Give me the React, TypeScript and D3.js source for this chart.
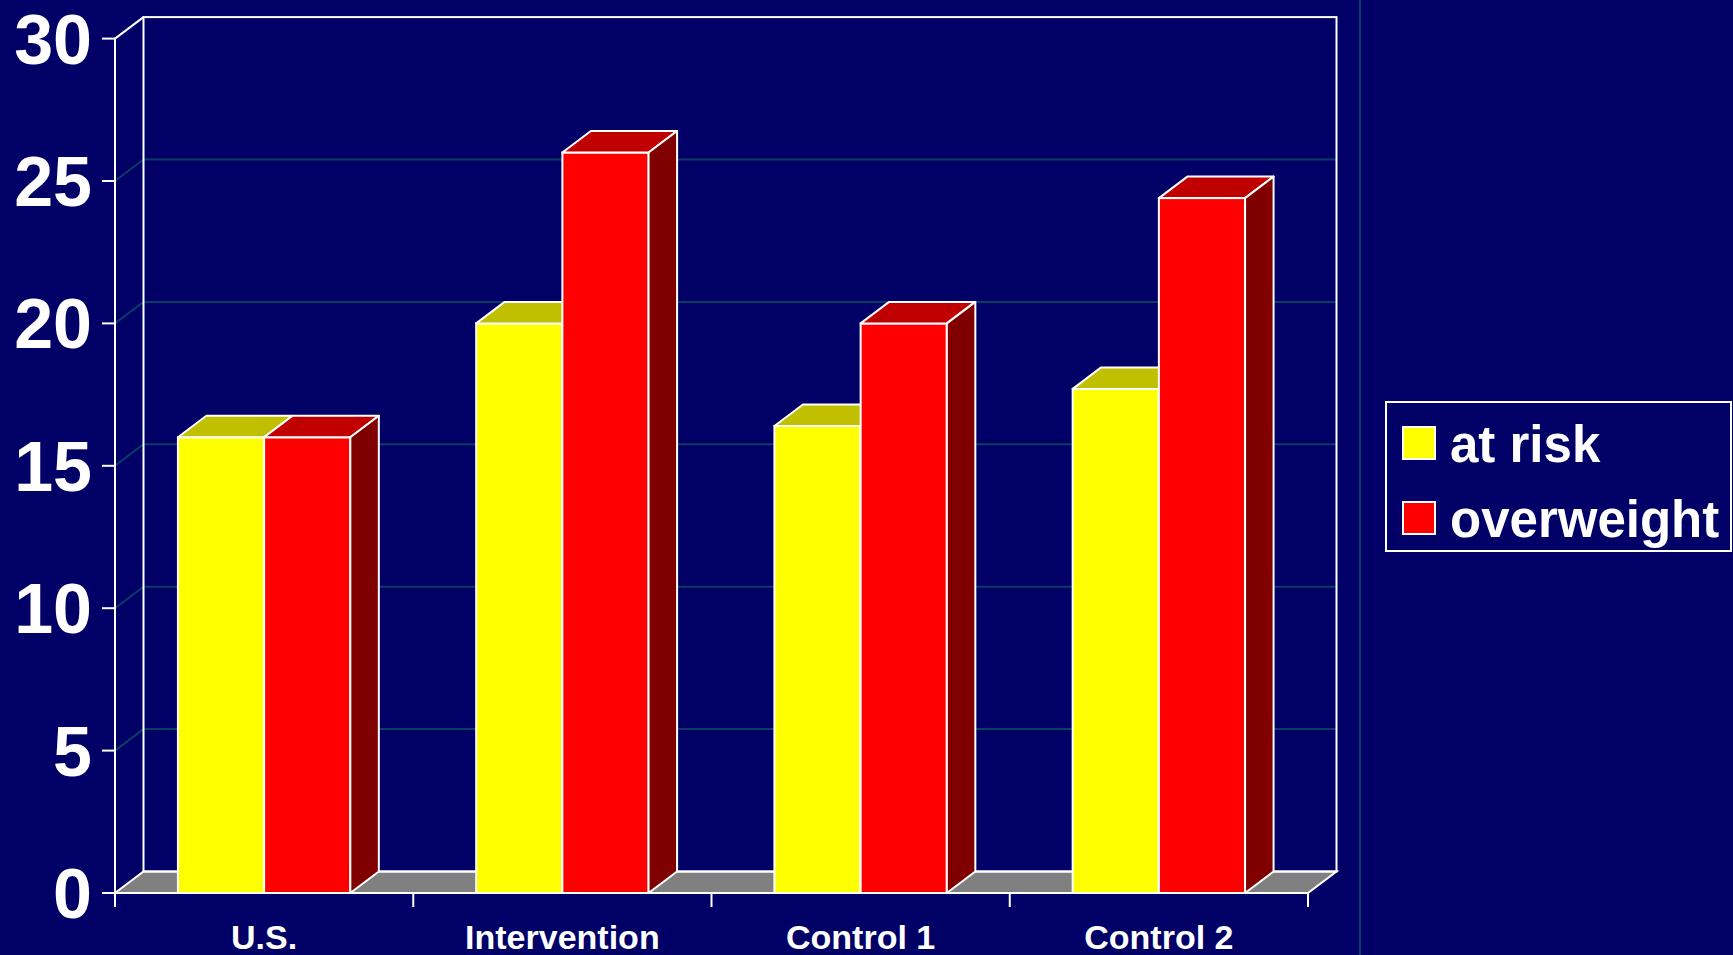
import React, { useEffect } from "react";
import * as d3 from "d3";

const categories = ["U.S.", "Intervention", "Control 1", "Control 2"];
const seriesNames = ["at risk", "overweight"];
const atRisk = [16.0, 20.0, 16.4, 17.7];
const overweight = [16.0, 26.0, 20.0, 24.4];
const yTicks = [0, 5, 10, 15, 20, 25, 30];

const W = 1733;
const H = 955;
const BG = "#000066";
const GRID = "#0a3d66";
const FONT = "'Liberation Sans', Arial, Helvetica, sans-serif";

const frontFill = ["#FFFF00", "#FF0000"];
const topFill = ["#C0C000", "#C00000"];
const sideFill = ["#808000", "#800000"];

export default function App() {
  useEffect(() => {
    document.body.style.margin = "0";
    document.body.style.background = BG;
  }, []);

  const x0 = 115;
  const x1 = 1308;
  const yBase = 893;
  const yTop = 38.6;
  const dx = 28.5;
  const dy = 21.5;

  const y = d3.scaleLinear().domain([0, 30]).range([yBase, yTop]);
  const x = d3.scaleBand<string>().domain(categories).range([x0, x1]).paddingInner(0).paddingOuter(0);
  const xi = d3.scaleBand<string>().domain(seriesNames).range([0, x.bandwidth()]).paddingInner(0).paddingOuter(0.73);

  const pts = (arr: number[][]) => arr.map((p) => p.join(",")).join(" ");

  const data = categories.map((c, i) => ({ c, vals: [atRisk[i], overweight[i]] }));

  return (
    <svg width={W} height={H} style={{ display: "block", position: "absolute", left: 0, top: 0 }} xmlns="http://www.w3.org/2000/svg">
      <rect x={0} y={0} width={W} height={H} fill={BG} />
      {/* right separator line */}
      <line x1={1360} x2={1360} y1={0} y2={H} stroke="#0a3a6a" strokeWidth={2} />

      {/* floor */}
      <polygon
        points={pts([[x0, yBase], [x1, yBase], [x1 + dx, yBase - dy], [x0 + dx, yBase - dy]])}
        fill="#808080"
        stroke="#FFFFFF"
        strokeWidth={2}
      />

      {/* gridlines */}
      {yTicks.filter((t) => t > 0 && t < 30).map((t) => (
        <polyline
          key={"g" + t}
          points={pts([[x0, y(t)], [x0 + dx, y(t) - dy], [x1 + dx, y(t) - dy]])}
          fill="none"
          stroke={GRID}
          strokeWidth={2}
        />
      ))}

      {/* back wall outline */}
      <rect x={x0 + dx} y={yTop - dy} width={x1 - x0} height={yBase - yTop} fill="none" stroke="#FFFFFF" strokeWidth={2} />
      {/* left wall top diagonal */}
      <line x1={x0} y1={yTop} x2={x0 + dx} y2={yTop - dy} stroke="#FFFFFF" strokeWidth={2} />
      {/* front y axis */}
      <line x1={x0} y1={yTop} x2={x0} y2={yBase + 14} stroke="#FFFFFF" strokeWidth={2} />

      {/* bars */}
      {data.map((d) => (
        <g key={d.c}>
          {d.vals.map((v, s) => {
            const bx = (x(d.c) as number) + (xi(seriesNames[s]) as number);
            const bw = xi.bandwidth();
            const ty = y(v);
            return (
              <g key={s}>
                <rect x={bx} y={ty} width={bw} height={yBase - ty} fill={frontFill[s]} stroke="#FFFFFF" strokeWidth={2} />
                <polygon
                  points={pts([[bx, ty], [bx + dx, ty - dy], [bx + bw + dx, ty - dy], [bx + bw, ty]])}
                  fill={topFill[s]}
                  stroke="#FFFFFF"
                  strokeWidth={2}
                  strokeLinejoin="round"
                />
                <polygon
                  points={pts([[bx + bw, ty], [bx + bw + dx, ty - dy], [bx + bw + dx, yBase - dy], [bx + bw, yBase]])}
                  fill={sideFill[s]}
                  stroke="#FFFFFF"
                  strokeWidth={2}
                  strokeLinejoin="round"
                />
              </g>
            );
          })}
        </g>
      ))}

      {/* front baseline */}
      <line x1={x0 - 13} y1={yBase} x2={x1} y2={yBase} stroke="#FFFFFF" strokeWidth={2} />

      {/* y ticks and labels */}
      {yTicks.map((t) => (
        <g key={"y" + t}>
          <line x1={x0 - 13} x2={x0} y1={y(t)} y2={y(t)} stroke="#FFFFFF" strokeWidth={2} />
          <text
            x={92}
            y={y(t) + 25}
            textAnchor="end"
            fill="#FFFFFF"
            fontFamily={FONT}
            fontWeight="bold"
            fontSize={70}
          >
            {t}
          </text>
        </g>
      ))}

      {/* x ticks */}
      {[...categories.map((c) => x(c) as number), x1].map((px, i) => (
        <line key={"xt" + i} x1={px} x2={px} y1={yBase} y2={yBase + 14} stroke="#FFFFFF" strokeWidth={2} />
      ))}
      {categories.map((c) => (
        <text
          key={"xl" + c}
          x={(x(c) as number) + x.bandwidth() / 2}
          y={949}
          textAnchor="middle"
          fill="#FFFFFF"
          fontFamily={FONT}
          fontWeight="bold"
          fontSize={34}
        >
          {c}
        </text>
      ))}

      {/* legend */}
      <rect x={1386} y={402} width={345} height={149} fill="none" stroke="#FFFFFF" strokeWidth={2} />
      {seriesNames.map((n, i) => (
        <g key={"lg" + n}>
          <rect x={1403} y={427 + i * 75} width={32} height={32} fill={frontFill[i]} stroke="#FFFFFF" strokeWidth={2} />
          <text x={1450} y={461.5 + i * 75} fill="#FFFFFF" fontFamily={FONT} fontWeight="bold" fontSize={51}>
            {n}
          </text>
        </g>
      ))}
    </svg>
  );
}
